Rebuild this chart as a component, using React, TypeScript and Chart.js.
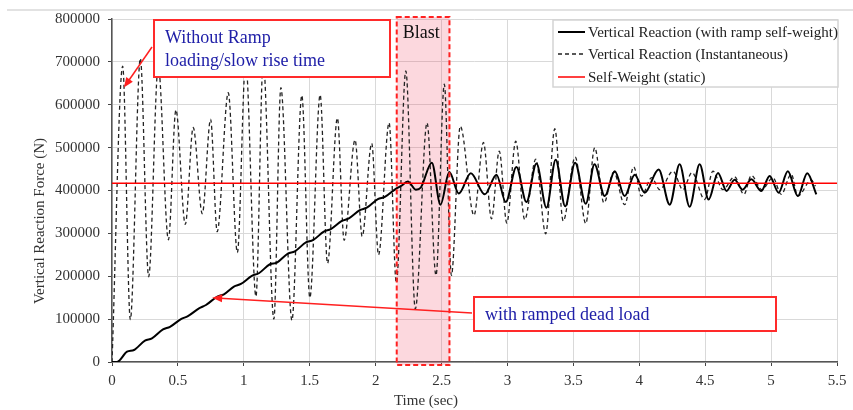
import React, { useEffect, useRef } from 'react';
import { Chart, registerables } from 'chart.js';

Chart.register(...registerables);

// ---- Data (time in s, force in N) ----
const instTime = [0, 0.081, 0.139, 0.215, 0.278, 0.351, 0.428, 0.485, 0.556, 0.616, 0.685, 0.748, 0.798, 0.882, 0.951, 1.014, 1.092, 1.147, 1.228, 1.281, 1.365, 1.44, 1.501, 1.579, 1.635, 1.71, 1.761, 1.844, 1.898, 1.97, 2.022, 2.102, 2.157, 2.229, 2.301, 2.39, 2.458, 2.521, 2.575, 2.642, 2.746, 2.818, 2.879, 2.938, 2.995, 3.063, 3.131, 3.215, 3.29, 3.359, 3.423, 3.514, 3.594, 3.662, 3.732, 3.806, 3.889, 3.958, 4.016, 4.094, 4.155, 4.256, 4.331, 4.4, 4.496, 4.559, 4.634, 4.723, 4.794, 4.85, 4.93, 5.014, 5.077, 5.153, 5.203, 5.305, 5.337];
const instForce = [0, 690000, 99000, 708000, 199000, 690000, 285000, 588000, 321000, 547000, 346000, 566000, 304000, 628000, 255000, 700000, 153000, 700000, 100000, 640000, 97000, 622000, 150000, 623000, 230000, 569000, 284000, 518000, 293000, 510000, 250000, 558000, 184500, 679000, 124000, 558000, 202000, 648000, 202000, 550000, 342000, 512000, 334000, 492000, 324000, 515000, 332000, 473000, 299000, 544000, 329000, 478000, 323000, 500000, 371000, 443000, 367000, 455000, 387000, 430000, 402000, 445000, 402000, 442000, 379000, 445000, 402000, 432000, 391000, 435000, 402000, 430000, 391000, 438000, 387000, 424000, 410000];

const rampTime = [0, 0.038, 0.114, 0.167, 0.25, 0.303, 0.387, 0.44, 0.523, 0.576, 0.66, 0.713, 0.796, 0.849, 0.925, 0.978, 1.061, 1.114, 1.198, 1.251, 1.334, 1.387, 1.471, 1.524, 1.607, 1.66, 1.744, 1.797, 1.88, 1.933, 2.017, 2.07, 2.153, 2.191, 2.244, 2.305, 2.343, 2.426, 2.492, 2.559, 2.631, 2.722, 2.828, 2.917, 2.987, 3.068, 3.144, 3.22, 3.296, 3.366, 3.438, 3.513, 3.594, 3.66, 3.738, 3.814, 3.889, 3.965, 4.041, 4.147, 4.231, 4.306, 4.382, 4.458, 4.526, 4.597, 4.662, 4.723, 4.784, 4.85, 4.926, 4.989, 5.057, 5.127, 5.203, 5.274, 5.343];
const rampForce = [0, 0, 24000, 28000, 50000, 55000, 76000, 82000, 100000, 107000, 125000, 133000, 152000, 158000, 176000, 182000, 201000, 207000, 228000, 232000, 253000, 258000, 279000, 284000, 304000, 310000, 329000, 335000, 354000, 360000, 380000, 385000, 404000, 410000, 421000, 402000, 407000, 465000, 367000, 443000, 393000, 440000, 391000, 437000, 373000, 455000, 373000, 463000, 360000, 472000, 363000, 465000, 369000, 461000, 387000, 445000, 387000, 437000, 395000, 449000, 367000, 461000, 362000, 461000, 379000, 441000, 399000, 425000, 402000, 426000, 399000, 434000, 395000, 445000, 387000, 440000, 391000];

const selfWeightTime = [0, 5.5];
const selfWeightForce = [417000, 417000];

const seriesLabels = [
  'Vertical Reaction (with ramp self-weight)',
  'Vertical Reaction (Instantaneous)',
  'Self-Weight (static)',
];
const xTitle = 'Time (sec)';
const yTitle = 'Vertical Reaction Force (N)';
const blastLabel = 'Blast';
const blastStart = 2.16;
const blastEnd = 2.56;
const note1Lines = ['Without Ramp', 'loading/slow rise time'];
const note1Target = [0.09, 640000];
const note2Text = 'with ramped dead load';
const note2Target = [0.76, 150000];

const SERIF = '"Liberation Serif", "Times New Roman", serif';

function drawArrow(ctx: CanvasRenderingContext2D, x1: number, y1: number, x2: number, y2: number) {
  const ang = Math.atan2(y2 - y1, x2 - x1);
  const hl = 10, hw = 4;
  ctx.beginPath();
  ctx.moveTo(x1, y1);
  ctx.lineTo(x2 - hl * 0.8 * Math.cos(ang), y2 - hl * 0.8 * Math.sin(ang));
  ctx.stroke();
  ctx.beginPath();
  ctx.moveTo(x2, y2);
  ctx.lineTo(x2 - hl * Math.cos(ang) + hw * Math.sin(ang), y2 - hl * Math.sin(ang) - hw * Math.cos(ang));
  ctx.lineTo(x2 - hl * Math.cos(ang) - hw * Math.sin(ang), y2 - hl * Math.sin(ang) + hw * Math.cos(ang));
  ctx.closePath();
  ctx.fill();
}

const overlayPlugin = {
  id: 'overlay',
  beforeDatasetsDraw(chart: any) {
    const { ctx, chartArea, scales } = chart;
    const x0 = scales.x.getPixelForValue(blastStart);
    const x1 = scales.x.getPixelForValue(blastEnd);
    ctx.save();
    ctx.fillStyle = 'rgba(240, 60, 90, 0.2)';
    ctx.fillRect(x0, chartArea.top - 2, x1 - x0, chartArea.bottom - chartArea.top + 5);
    ctx.restore();
  },
  afterDraw(chart: any) {
    const { ctx, chartArea, scales } = chart;
    const xs = scales.x, ys = scales.y;
    ctx.save();

    // top frame line
    ctx.fillStyle = '#e2e2e2';
    ctx.fillRect(7, 9, 846, 2);

    // blast border
    const bx0 = xs.getPixelForValue(blastStart);
    const bx1 = xs.getPixelForValue(blastEnd);
    ctx.strokeStyle = '#ff2020';
    ctx.lineWidth = 2;
    ctx.setLineDash([5, 3]);
    ctx.strokeRect(bx0, chartArea.top - 2, bx1 - bx0, chartArea.bottom - chartArea.top + 5);
    ctx.setLineDash([]);
    ctx.fillStyle = '#111';
    ctx.font = `18px ${SERIF}`;
    ctx.textAlign = 'left';
    ctx.textBaseline = 'middle';
    ctx.fillText(blastLabel, bx0 + 6, chartArea.top + 14);

    // note 1
    ctx.fillStyle = '#ffffff';
    ctx.fillRect(154, 20, 236, 57);
    ctx.strokeStyle = '#ff2a2a';
    ctx.lineWidth = 2;
    ctx.strokeRect(154, 20, 236, 57);
    ctx.fillStyle = '#2020a8';
    ctx.font = `18px ${SERIF}`;
    ctx.fillText(note1Lines[0], 165, 38);
    ctx.fillText(note1Lines[1], 165, 61);
    ctx.strokeStyle = '#ff2020';
    ctx.fillStyle = '#ff2020';
    ctx.lineWidth = 1.5;
    drawArrow(ctx, 152, 47, xs.getPixelForValue(note1Target[0]), ys.getPixelForValue(note1Target[1]));

    // note 2
    ctx.fillStyle = '#ffffff';
    ctx.fillRect(474, 297, 302, 34);
    ctx.strokeStyle = '#ff2a2a';
    ctx.lineWidth = 2;
    ctx.strokeRect(474, 297, 302, 34);
    ctx.fillStyle = '#2020a8';
    ctx.font = `18px ${SERIF}`;
    ctx.fillText(note2Text, 485, 315);
    ctx.strokeStyle = '#ff2020';
    ctx.fillStyle = '#ff2020';
    ctx.lineWidth = 1.5;
    drawArrow(ctx, 472, 313, xs.getPixelForValue(note2Target[0]), ys.getPixelForValue(note2Target[1]));

    // legend
    ctx.fillStyle = '#ffffff';
    ctx.fillRect(553, 20, 285, 67);
    ctx.strokeStyle = '#d4d4d4';
    ctx.lineWidth = 1.5;
    ctx.strokeRect(553, 20, 285, 67);
    const rows = [32, 54, 77];
    const styles = [
      { c: '#000', w: 2, d: [] as number[] },
      { c: '#222', w: 1.3, d: [4, 3] },
      { c: '#ff0000', w: 1.5, d: [] as number[] },
    ];
    ctx.font = `15px ${SERIF}`;
    rows.forEach((ry, i) => {
      ctx.strokeStyle = styles[i].c;
      ctx.lineWidth = styles[i].w;
      ctx.setLineDash(styles[i].d);
      ctx.beginPath();
      ctx.moveTo(558, ry);
      ctx.lineTo(585, ry);
      ctx.stroke();
      ctx.setLineDash([]);
      ctx.fillStyle = '#222';
      ctx.fillText(seriesLabels[i], 588, ry + 1);
    });

    // axis titles
    ctx.fillStyle = '#333';
    ctx.font = `15px ${SERIF}`;
    ctx.textAlign = 'center';
    ctx.fillText(xTitle, 426, 401);
    ctx.translate(40, 221);
    ctx.rotate(-Math.PI / 2);
    ctx.fillText(yTitle, 0, 0);
    ctx.restore();
  },
};

export default function App() {
  const ref = useRef<HTMLCanvasElement | null>(null);
  useEffect(() => {
    if (!ref.current) return;
    const tickFont = { family: SERIF, size: 15 };
    const chart = new Chart(ref.current, {
      type: 'line',
      data: {
        datasets: [
          {
            label: seriesLabels[2],
            data: selfWeightTime.map((t, i) => ({ x: t, y: selfWeightForce[i] })),
            borderColor: '#ff0000',
            borderWidth: 1.5,
            pointRadius: 0,
            order: 0,
          },
          {
            label: seriesLabels[0],
            data: rampTime.map((t, i) => ({ x: t, y: rampForce[i] })),
            borderColor: '#000000',
            borderWidth: 2,
            pointRadius: 0,
            cubicInterpolationMode: 'monotone',
            order: 1,
          },
          {
            label: seriesLabels[1],
            data: instTime.map((t, i) => ({ x: t, y: instForce[i] })),
            borderColor: '#222222',
            borderWidth: 1.3,
            borderDash: [4, 3],
            pointRadius: 0,
            cubicInterpolationMode: 'monotone',
            order: 2,
          },
        ],
      },
      options: {
        animation: false,
        responsive: false,
        layout: { padding: { top: 19, right: 16, left: 0, bottom: 0 } },
        plugins: { legend: { display: false }, tooltip: { enabled: false } },
        scales: {
          x: {
            type: 'linear',
            min: 0,
            max: 5.5,
            ticks: {
              stepSize: 0.5,
              font: tickFont,
              color: '#333',
              padding: 6,
              maxRotation: 0,
              autoSkip: false,
              callback: (v: any) => String(Math.round(Number(v) * 10) / 10),
            },
            grid: { color: '#d9d9d9', lineWidth: 1, tickLength: 4, tickColor: '#444' },
            border: { color: '#555', width: 1.5 },
            afterFit: (s: any) => { s.height = 48; },
          },
          y: {
            min: 0,
            max: 800000,
            ticks: {
              stepSize: 100000,
              font: tickFont,
              color: '#333',
              padding: 8,
              callback: (v: any) => String(v),
            },
            grid: { color: '#d9d9d9', lineWidth: 1, tickLength: 4, tickColor: '#444' },
            border: { color: '#555', width: 1.5 },
            afterFit: (s: any) => { s.width = 112; },
          },
        },
      },
      plugins: [overlayPlugin],
    } as any);
    return () => chart.destroy();
  }, []);
  return (
    <div style={{ position: 'fixed', left: 0, top: 0, width: 853, height: 410, background: '#fff' }}>
      <canvas ref={ref} width={853} height={410} />
    </div>
  );
}
